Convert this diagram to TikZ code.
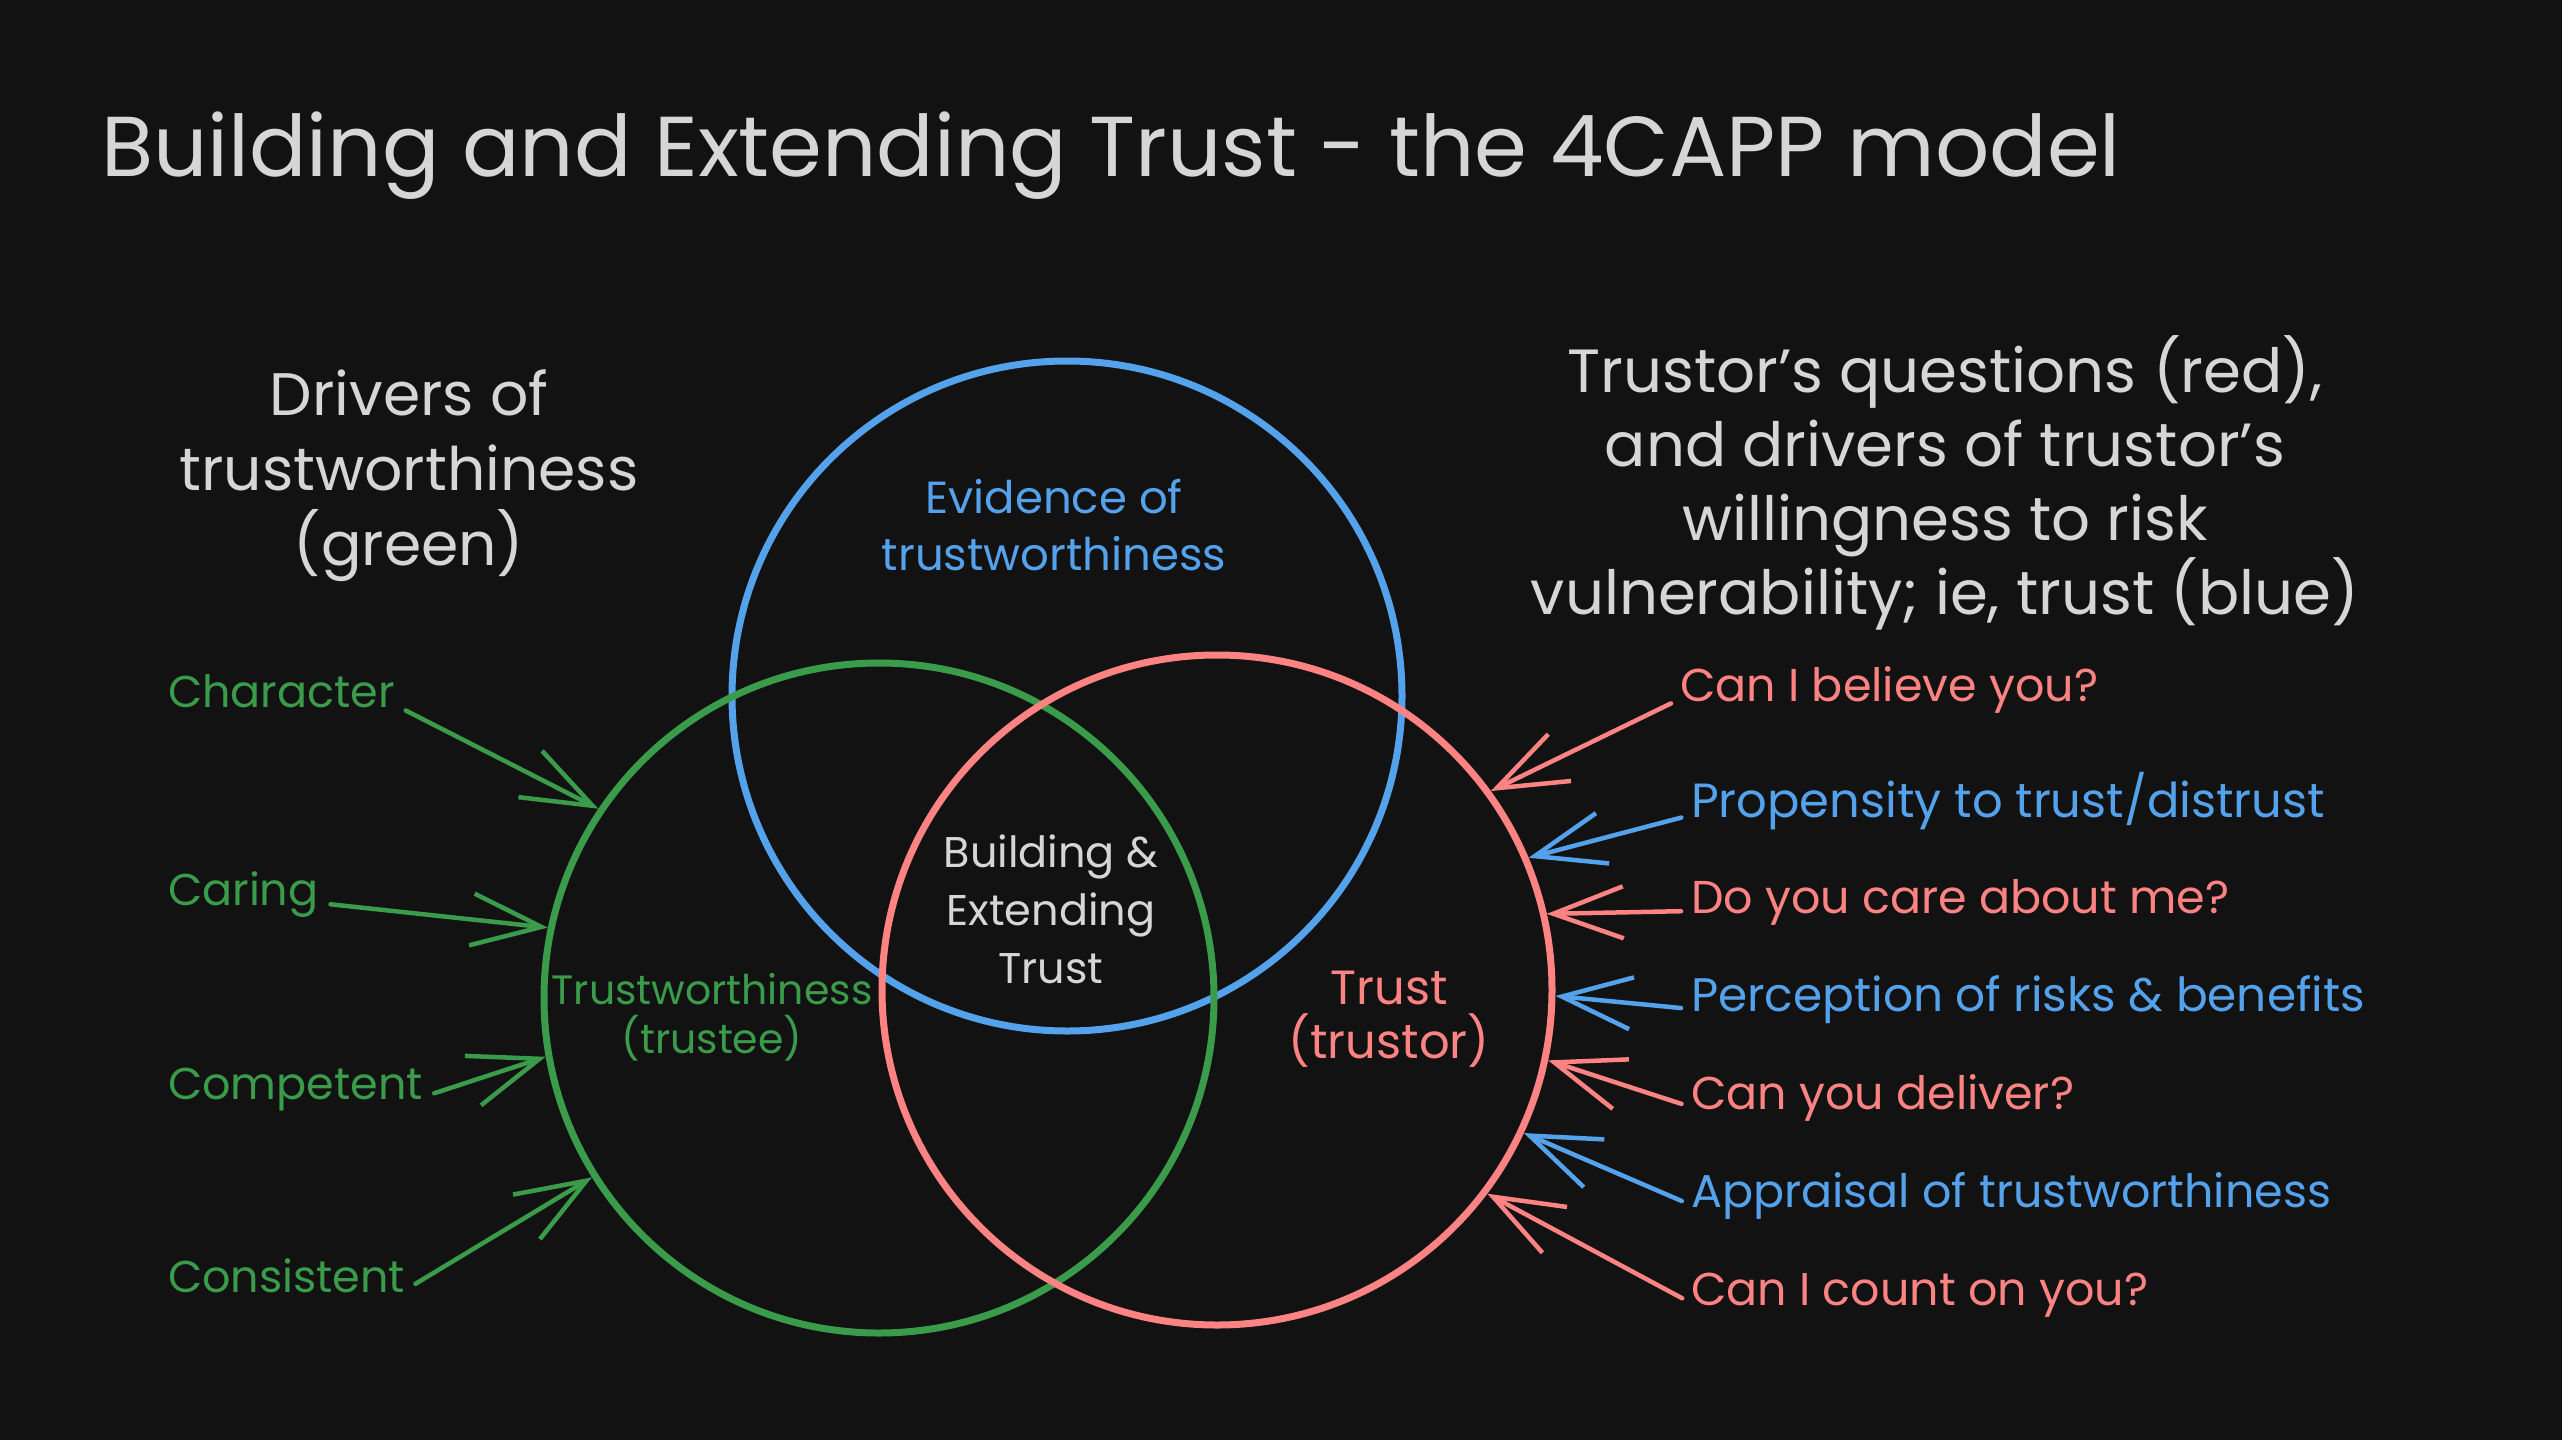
\documentclass[tikz,border=0pt]{standalone}
\usepackage{fontspec}
\setmainfont{Poppins}
\usetikzlibrary{arrows.meta}
\definecolor{bg}{HTML}{121212}
\definecolor{txt}{HTML}{D6D6D6}
\definecolor{grn}{HTML}{3A9B4A}
\definecolor{blu}{HTML}{55A2EC}
\definecolor{redc}{HTML}{FF8383}
\begin{document}
\begin{tikzpicture}[x=1pt,y=-1pt,
  ring/.style={circle, draw=#1, line width=7pt, minimum size=670pt, inner sep=0pt},
  lbl/.style={anchor=west, inner sep=0pt, outer sep=0pt, text height=0.7em, text depth=0.2em, font=\fontsize{46}{55}\selectfont},
  hdr/.style={align=center, inner sep=0pt, text=txt, font=\fontsize{60}{75}\selectfont},
  inlbl/.style={align=center, inner sep=0pt, font=\fontsize{44}{57}\selectfont},
  arr/.style={line width=4.5pt, line cap=round, -{Straight Barb[length=70pt,width=52pt]}}
]
\fill[bg] (0,0) rectangle (2562,1440);
\useasboundingbox (0,0) rectangle (2562,1440);

% title
\node[anchor=base west, inner sep=0pt, text=txt, font=\fontsize{85}{100}\selectfont] (title) at (101,176) {Building and Extending Trust - the 4CAPP model};

% circles
\node[ring=blu] (bc) at (1067,696) {};
\node[ring=grn] (gc) at (879,998) {};
\node[ring=redc] (rc) at (1217,990) {};

% circle labels
\node[inlbl, text=blu, font=\fontsize{45}{57}\selectfont] (evid) at (1054,525) {Evidence of\\trustworthiness};
\node[inlbl, text=txt, font=\fontsize{43}{58}\selectfont] (bet) at (1051,909) {Building \&\\Extending\\Trust};
\node[inlbl, text=grn, font=\fontsize{41}{49}\selectfont] (twl) at (712,1017) {Trustworthiness\\(trustee)};
\node[inlbl, text=redc, font=\fontsize{48}{54}\selectfont] (trl) at (1389,1019) {Trust\\(trustor)};

% headers
\node[hdr] (lhdr) at (409,476) {Drivers of\\trustworthiness\\(green)};
\node[hdr, font=\fontsize{61}{74}\selectfont] (rhdr) at (1945,483) {Trustor's questions (red),\\and drivers of trustor's\\willingness to risk\\vulnerability; ie, trust (blue)};

% left labels
\node[lbl, text=grn, font=\fontsize{44.5}{55}\selectfont] (char) at (168,705) {Character};
\node[lbl, text=grn, font=\fontsize{44.5}{55}\selectfont] (car) at (168,903) {Caring};
\node[lbl, text=grn, font=\fontsize{44.5}{55}\selectfont] (comp) at (168,1097) {Competent};
\node[lbl, text=grn, font=\fontsize{44.5}{55}\selectfont] (cons) at (168,1290) {Consistent};

\draw[arr, grn, shorten <=12pt] (char.east) -- (gc.146);
\draw[arr, grn, shorten <=12pt] (car.east) -- (gc.168);
\draw[arr, grn, shorten <=12pt] (comp.east) -- (gc.190);
\draw[arr, grn, shorten <=12pt] (cons.east) -- (gc.212);

% right labels
\node[lbl, text=redc] (q1) at (1680,699) {Can I believe you?};
\node[lbl, text=blu, font=\fontsize{48}{55}\selectfont] (d1) at (1691,815) {Propensity to trust/distrust};
\node[lbl, text=redc] (q2) at (1691,911) {Do you care about me?};
\node[lbl, text=blu, font=\fontsize{47}{55}\selectfont] (d2) at (1691,1009) {Perception of risks \& benefits};
\node[lbl, text=redc] (q3) at (1691,1107) {Can you deliver?};
\node[lbl, text=blu, font=\fontsize{46}{55}\selectfont] (d3) at (1691,1205) {Appraisal of trustworthiness};
\node[lbl, text=redc] (q4) at (1691,1303) {Can I count on you?};

\draw[arr, redc, shorten <=10pt] (q1.west) -- (rc.36);
\draw[arr, blu, shorten <=10pt] (d1.west) -- (rc.23);
\draw[arr, redc, shorten <=10pt] (q2.west) -- (rc.13);
\draw[arr, blu, shorten <=10pt] (d2.west) -- (rc.-1);
\draw[arr, redc, shorten <=10pt] (q3.west) -- (rc.-12);
\draw[arr, blu, shorten <=10pt] (d3.west) -- (rc.-25);
\draw[arr, redc, shorten <=10pt] (q4.west) -- (rc.-37);
\end{tikzpicture}
\end{document}
